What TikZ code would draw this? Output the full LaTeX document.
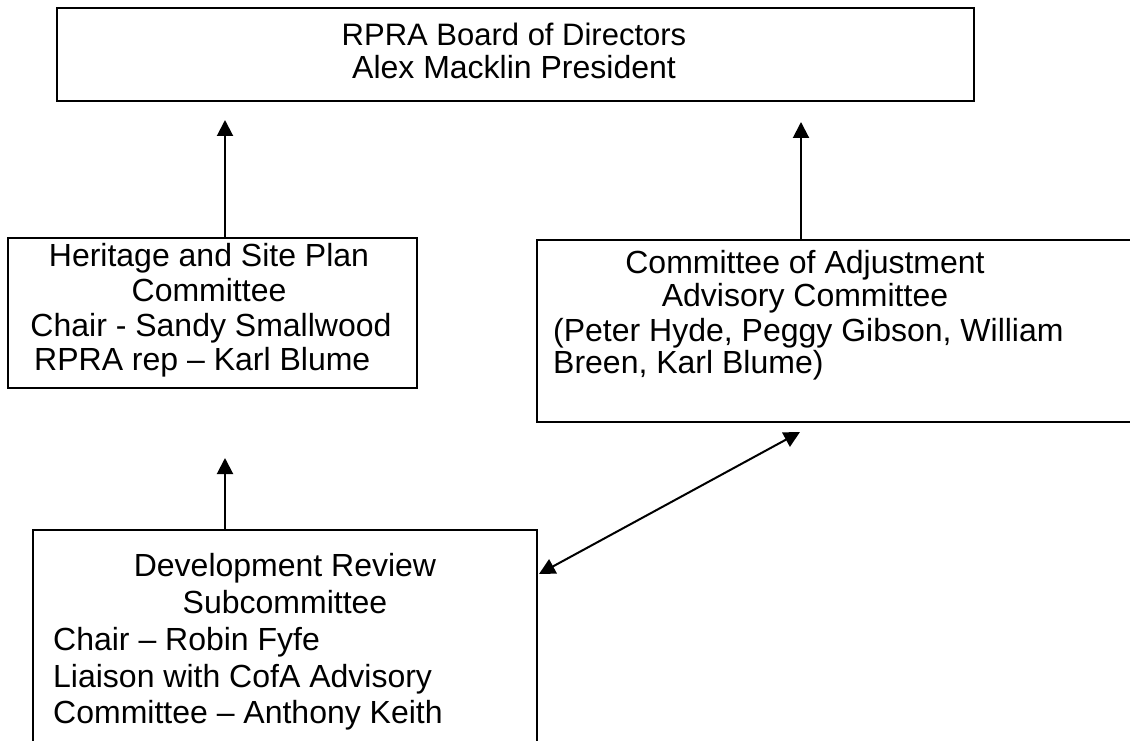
\documentclass[tikz,border=0pt]{standalone}
\usepackage{fontspec}
\setmainfont{Liberation Sans}
\usetikzlibrary{arrows.meta,calc}
\begin{document}
\begin{tikzpicture}[x=1pt,y=-1pt,
  box/.style={draw,line width=2.2pt,rectangle,inner sep=0pt,outer sep=0pt,anchor=north west},
  txt/.style={inner sep=0pt,font=\fontsize{32}{37}\selectfont,anchor=base},
  txtl/.style={txt,anchor=base west},
  arr/.style={line width=2pt,-{Triangle[length=16pt,width=16pt]}},
  darr/.style={line width=2pt,{Triangle[length=16pt,width=16pt]}-{Triangle[length=16pt,width=16pt]}}]
\useasboundingbox (0,0) rectangle (1130,741);
\clip (0,0) rectangle (1130,741);
\fill[white] (0,0) rectangle (1130,741);
% boxes
\node[box,minimum width=917pt,minimum height=93pt] (top) at (57,8) {};
\node[box,minimum width=409pt,minimum height=150pt] (her) at (8,238) {};
\node[box,minimum width=620pt,minimum height=182pt] (cofa) at (537,240) {};
\node[box,minimum width=504pt,minimum height=260pt] (dev) at (33,530) {};
% texts
\node[txt,font=\fontsize{31}{37}\selectfont] (t1) at (514,46) {RPRA Board of Directors};
\node[txt] (t2) at (514,79) {Alex Macklin President};
\node[txt] (h1) at (209,266) {Heritage and Site Plan};
\node[txt] (h2) at (209,301) {Committee};
\node[txt] (h3) at (211,336) {Chair - Sandy Smallwood};
\node[txtl] (h4) at (34,370) {RPRA rep – Karl Blume};
\node[txt] (c1) at (805,273) {Committee of Adjustment};
\node[txt] (c2) at (805,306) {Advisory Committee};
\node[txtl] (c3) at (553,341) {(Peter Hyde, Peggy Gibson, William};
\node[txtl] (c4) at (553,373) {Breen, Karl Blume)};
\node[txt] (d1) at (285,576) {Development Review};
\node[txt] (d2) at (285,613) {Subcommittee};
\node[txtl] (d3) at (53,650) {Chair – Robin Fyfe};
\node[txtl] (d4) at (53,687) {Liaison with CofA Advisory};
\node[txtl] (d5) at (53,723) {Committee – Anthony Keith};
% connectors
\coordinate (a1s) at ($(her.north west)+(217,0)$);
\coordinate (a1e) at ($(top.south west)+(168,19)$);
\coordinate (a2s) at ($(cofa.north west)+(264,0)$);
\coordinate (a2e) at ($(top.south west)+(744,21)$);
\coordinate (a3s) at ($(dev.north west)+(192,0)$);
\coordinate (a3e) at ($(her.south west)+(217,70)$);
\coordinate (b1) at ($(dev.north east)+(2,44)$);
\coordinate (b2) at ($(cofa.south west)+(263,10)$);
\draw[arr] (a1s) -- (a1e);
\draw[arr] (a2s) -- (a2e);
\draw[arr] (a3s) -- (a3e);
\draw[darr] (b1) -- (b2);
\end{tikzpicture}
\end{document}
